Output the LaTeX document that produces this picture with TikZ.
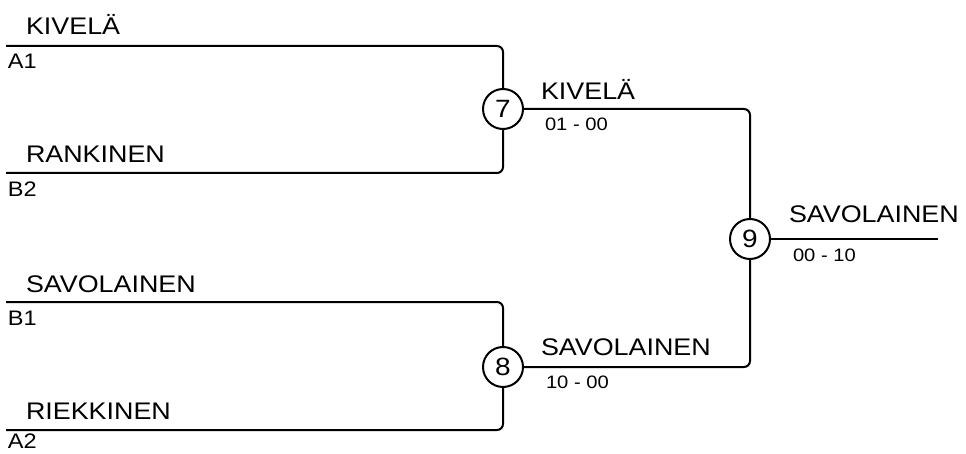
\documentclass[tikz,border=0pt]{standalone}
\usepackage{fontspec}
\setmainfont{Liberation Sans}[FakeStretch=1.12]
\usetikzlibrary{positioning}

\begin{document}
\begin{tikzpicture}[x=1pt,y=-1pt,line width=2pt,on grid,
  match/.style={circle,draw,minimum size=40pt,inner sep=0pt,font=\fontsize{25}{28}\selectfont},
  player/.style={anchor=base west,inner sep=0pt,font=\fontsize{24}{28}\selectfont},
  seed/.style={anchor=north west,inner sep=0pt,font=\fontsize{21}{24}\selectfont},
  score/.style={anchor=north west,inner sep=0pt,font=\fontsize{18}{20}\selectfont}]
  \useasboundingbox (0,0) rectangle (966,454);
  % matches
  \node[match] (m7) at (503,109) {7};
  \node[match] (m8) [below=258pt of m7] {8};
  \node[match] (m9) [below right=130pt and 247pt of m7] {9};
  % line ends
  \coordinate (a1) at (6,46);
  \coordinate (b2) at (6,173);
  \coordinate (b1) at (6,302);
  \coordinate (a2) at (6,430);
  \coordinate (fin) at (938,239);
  % players
  \node[player] (p_a1) at (25,35) {KIVELÄ};
  \node[seed] (s_a1) at (7,53) {A1};
  \node[player] (p_b2) at (25,163) {RANKINEN};
  \node[seed] (s_b2) at (7,181) {B2};
  \node[player] (p_b1) at (25,292) {SAVOLAINEN};
  \node[seed] (s_b1) at (7,310) {B1};
  \node[player] (p_a2) at (25,419) {RIEKKINEN};
  \node[seed] (s_a2) at (7,433) {A2};
  % winners
  \node[player] (w7) at (540,100) {KIVELÄ};
  \node[score] (r7) at (544,117) {01 - 00};
  \node[player] (w8) at (540,355) {SAVOLAINEN};
  \node[score] (r8) at (545,375) {10 - 00};
  \node[player] (w9) at (788,223) {SAVOLAINEN};
  \node[score] (r9) at (792,248) {00 - 10};
  \path[draw,rounded corners=6pt]
    (a1) -| (m7.north)
    (b2) -| (m7.south)
    (b1) -| (m8.north)
    (a2) -| (m8.south)
    (m7.east) -| (m9.north)
    (m8.east) -| (m9.south);
  \draw (m9.east) -- (fin);
\end{tikzpicture}
\end{document}
